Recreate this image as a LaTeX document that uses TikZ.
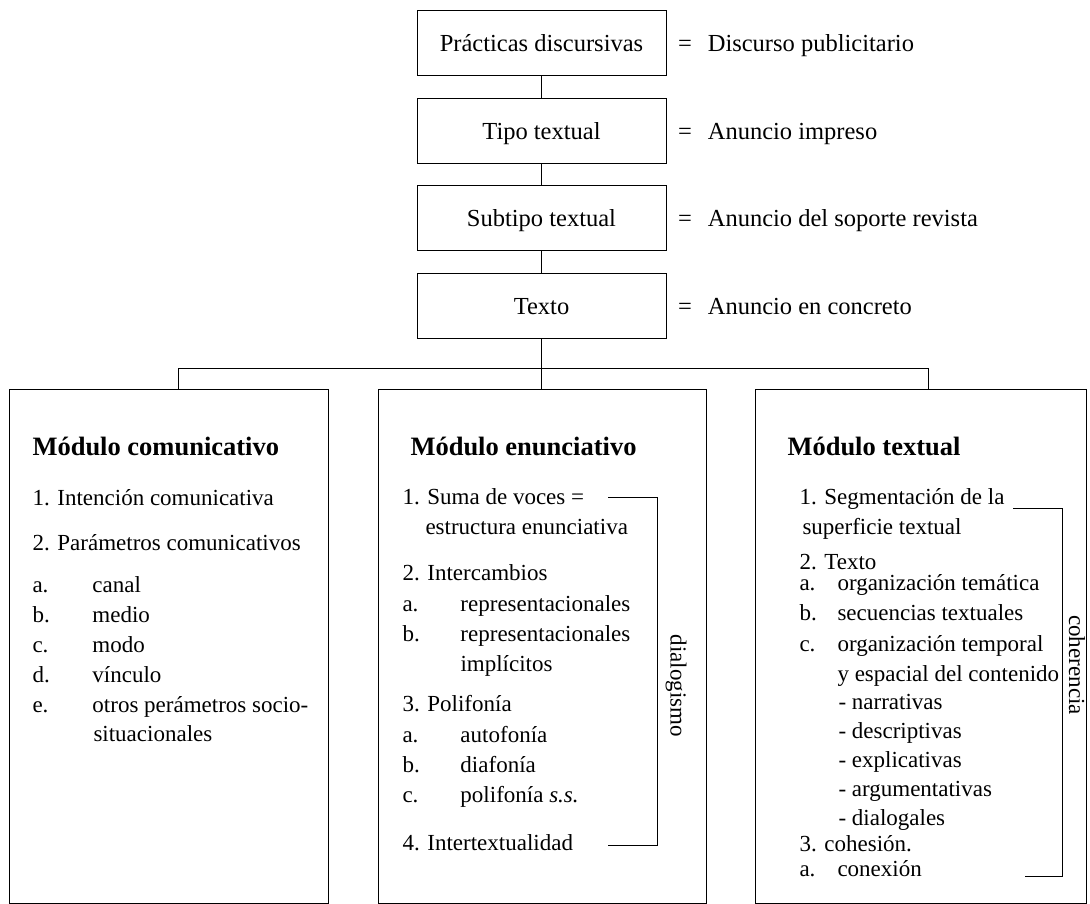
\documentclass[tikz,border=0pt]{standalone}
\usepackage{fontspec}
\setmainfont{Liberation Serif}
\usetikzlibrary{positioning}

\begin{document}
\begin{tikzpicture}
  [x=1pt,y=-1pt,line width=1pt,
   every node/.style={font=\fontsize{23}{30}\selectfont},
   box/.style={draw,minimum width=249pt,minimum height=65pt,text height=17pt,text depth=0pt,
     font=\fontsize{24.5}{30}\selectfont},
   defn/.style={anchor=base west,inner sep=0pt,font=\fontsize{24.5}{30}\selectfont},
   modbox/.style={draw,anchor=north west,minimum height=514pt},
   item/.style={anchor=base west,inner sep=0pt},
   title/.style={item,font=\bfseries\fontsize{26.5}{30}\selectfont},
   side/.style={rotate=-90,inner sep=0pt}]
  \useasboundingbox (0,0) rectangle (1090,904);

  % cadena superior
  \node[box] (p1) at (541.5,43) {Prácticas discursivas};
  \node[box,below=22pt of p1] (p2) {Tipo textual};
  \node[box,below=21pt of p2] (p3) {Subtipo textual};
  \node[box,below=22pt of p3] (p4) {Texto};
  \node[defn] (d1) at ([xshift=11pt]p1.base east) {=\hspace{16pt}Discurso publicitario};
  \node[defn] (d2) at ([xshift=11pt]p2.base east) {=\hspace{16pt}Anuncio impreso};
  \node[defn] (d3) at ([xshift=11pt]p3.base east) {=\hspace{16pt}Anuncio del soporte revista};
  \node[defn] (d4) at ([xshift=11pt]p4.base east) {=\hspace{16pt}Anuncio en concreto};
  \draw (p1) -- (p2);
  \draw (p2) -- (p3);
  \draw (p3) -- (p4);

  % modulos
  \node[modbox,minimum width=319pt] (modc) at (9,389) {};
  \node[modbox,minimum width=328pt] (mode) at (378,389) {};
  \node[modbox,minimum width=331pt] (modt) at (755,389) {};
  \coordinate (barl) at (178,368);
  \coordinate (barr) at (928,368);
  \draw (modc.north -| barl) -- (barl) -- (barr) -- (modt.north -| barr);
  \draw (p4) -- (mode.north -| p4);

  % modulo comunicativo
  \node[title] (tc) at (32,455) {Módulo comunicativo};
  \node[item] (c1) at (32,505) {1. Intención comunicativa};
  \node[item] (c2) at (32,550) {2. Parámetros comunicativos};
  \node[item] (c3) at (32,592) {\makebox[60pt][l]{a.}canal};
  \node[item] (c4) at (32,622) {\makebox[60pt][l]{b.}medio};
  \node[item] (c5) at (32,652) {\makebox[60pt][l]{c.}modo};
  \node[item] (c6) at (32,682) {\makebox[60pt][l]{d.}vínculo};
  \node[item] (c7) at (32,712) {\makebox[60pt][l]{e.}otros perámetros socio-};
  \node[item] (c8) at (93,741) {situacionales};

  % modulo enunciativo
  \node[title] (te) at (410,455) {Módulo enunciativo};
  \node[item] (e1) at (402,504) {1. Suma de voces =};
  \node[item] (e2) at (425,534) {estructura enunciativa};
  \node[item] (e3) at (402,580) {2. Intercambios};
  \node[item] (e4) at (402,611) {\makebox[58pt][l]{a.}representacionales};
  \node[item] (e5) at (402,641) {\makebox[58pt][l]{b.}representacionales};
  \node[item] (e6) at (460,671) {implícitos};
  \node[item] (e7) at (402,711) {3. Polifonía};
  \node[item] (e8) at (402,742) {\makebox[58pt][l]{a.}autofonía};
  \node[item] (e9) at (402,772) {\makebox[58pt][l]{b.}diafonía};
  \node[item] (e10) at (402,802) {\makebox[58pt][l]{c.}polifonía \textit{s.s.}};
  \node[item] (e11) at (402,850) {4. Intertextualidad};
  \coordinate (dtop) at (608,497);
  \coordinate (dbot) at (608,845);
  \draw (dtop) -- ++(49,0) |- (dbot);
  \node[side] (dlg) at (676,686) {dialogismo};

  % modulo textual
  \node[title] (tt) at (787,455) {Módulo textual};
  \node[item] (t1) at (799,504) {1. Segmentación de la};
  \node[item] (t2) at (802,534) {superficie textual};
  \node[item] (t3) at (799,569) {2. Texto};
  \node[item] (t4) at (799,590) {\makebox[38pt][l]{a.}organización temática};
  \node[item] (t5) at (799,620) {\makebox[38pt][l]{b.}secuencias textuales};
  \node[item] (t6) at (799,651) {\makebox[38pt][l]{c.}organización temporal};
  \node[item] (t7) at (837,681) {y espacial del contenido};
  \node[item] (t8) at (838,709) {- narrativas};
  \node[item] (t9) at (838,738) {- descriptivas};
  \node[item] (t10) at (838,767) {- explicativas};
  \node[item] (t11) at (838,796) {- argumentativas};
  \node[item] (t12) at (838,825) {- dialogales};
  \node[item] (t13) at (799,851) {3. cohesión.};
  \node[item] (t14) at (799,876) {\makebox[38pt][l]{a.}conexión};
  \coordinate (ctop) at (1013,508);
  \coordinate (cbot) at (1025,876);
  \draw (ctop) -- ++(49,0) |- (cbot);
  \node[side] (coh) at (1077,665) {coherencia};
\end{tikzpicture}
\end{document}
